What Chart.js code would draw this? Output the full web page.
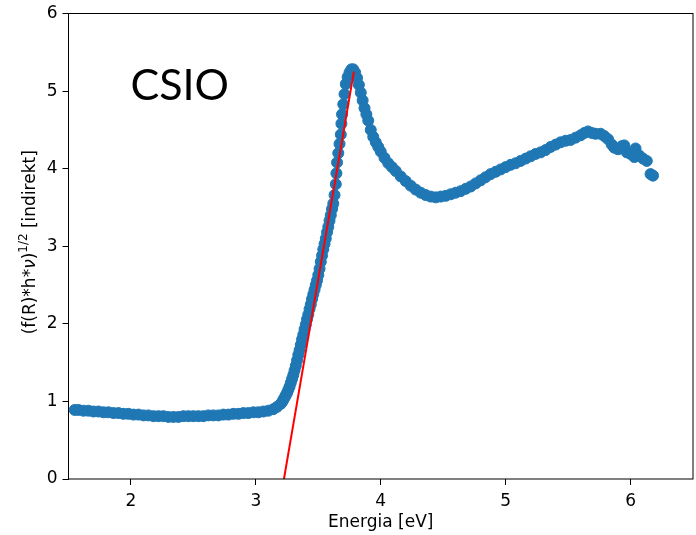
<!DOCTYPE html>
<html lang="en">
<head>
  <meta charset="UTF-8" />
  <title>CSIO</title>
  <script src="https://cdn.jsdelivr.net/npm/chart.js"></script>
  <style>
    html, body { margin: 0; padding: 0; background: #fff; }
  </style>
</head>
<body>
  <canvas id="csioChart" width="696" height="535"></canvas>

  <script>
    // Energy (eV)
    const energy = [
      1.55, 1.58, 1.62, 1.66, 1.70, 1.74, 1.78, 1.82, 1.86, 1.90, 1.94, 1.98,
      2.02, 2.06, 2.10, 2.14, 2.18, 2.22, 2.26, 2.30, 2.34, 2.38, 2.42, 2.46,
      2.50, 2.54, 2.58, 2.62, 2.66, 2.70, 2.74, 2.78, 2.82, 2.86, 2.90, 2.94,
      2.98, 3.02, 3.06, 3.10, 3.14, 3.17, 3.20,
      3.21, 3.22, 3.23, 3.24, 3.25, 3.26, 3.27, 3.28, 3.29, 3.30, 3.31, 3.32,
      3.33, 3.34, 3.35, 3.36, 3.37, 3.38, 3.39, 3.40, 3.41, 3.42, 3.43, 3.44,
      3.45, 3.46, 3.47, 3.48, 3.49, 3.50, 3.51, 3.52, 3.53, 3.54, 3.55, 3.56,
      3.57, 3.58, 3.59, 3.60, 3.61, 3.62, 3.63, 3.64, 3.645, 3.65, 3.66, 3.67,
      3.68, 3.685, 3.69, 3.70, 3.71, 3.72, 3.735, 3.75, 3.765, 3.78,
      3.795, 3.81, 3.825, 3.84, 3.855, 3.87, 3.885, 3.90, 3.92, 3.94, 3.96, 3.98,
      4.00, 4.03, 4.06, 4.09, 4.12, 4.16, 4.20, 4.24, 4.28, 4.32, 4.36, 4.40,
      4.44, 4.48, 4.52, 4.56, 4.60, 4.64, 4.68, 4.72, 4.76, 4.80, 4.84, 4.88,
      4.92, 4.96, 5.00, 5.04, 5.08, 5.12, 5.16, 5.20, 5.24, 5.28, 5.32, 5.36,
      5.40, 5.44, 5.48, 5.52, 5.56, 5.60, 5.63, 5.66, 5.69, 5.72, 5.76, 5.79,
      5.82, 5.85, 5.87, 5.90, 5.93, 5.95, 5.97, 6.00, 6.03, 6.04, 6.07, 6.10,
      6.13, 6.16, 6.18
    ];

    // (f(R)*h*nu)^(1/2), indirect
    const tauc = [
      0.89, 0.89, 0.88, 0.88, 0.87, 0.87, 0.86, 0.86, 0.85, 0.85, 0.84, 0.84,
      0.83, 0.83, 0.82, 0.82, 0.81, 0.81, 0.81, 0.80, 0.80, 0.80, 0.81, 0.81,
      0.81, 0.81, 0.81, 0.82, 0.82, 0.82, 0.83, 0.83, 0.84, 0.84, 0.85, 0.85,
      0.86, 0.86, 0.87, 0.88, 0.90, 0.93, 0.97,
      0.99, 1.02, 1.05, 1.08, 1.11, 1.15, 1.19, 1.24, 1.29, 1.34, 1.40, 1.46,
      1.53, 1.60, 1.66, 1.73, 1.80, 1.86, 1.93, 1.99, 2.06, 2.12, 2.19, 2.25,
      2.32, 2.38, 2.44, 2.50, 2.56, 2.63, 2.71, 2.80, 2.88, 2.96, 3.03, 3.10,
      3.18, 3.25, 3.33, 3.40, 3.48, 3.55, 3.66, 3.80, 3.94, 4.08, 4.20, 4.32,
      4.44, 4.58, 4.70, 4.83, 4.96, 5.09, 5.18, 5.24, 5.28, 5.28,
      5.24, 5.17, 5.08, 4.98, 4.88, 4.78, 4.70, 4.62, 4.50, 4.41, 4.34, 4.28,
      4.22, 4.14, 4.07, 4.02, 3.97, 3.90, 3.84, 3.78, 3.73, 3.69, 3.66, 3.64,
      3.63, 3.64, 3.65, 3.67, 3.69, 3.71, 3.74, 3.77, 3.81, 3.85, 3.89, 3.93,
      3.96, 3.99, 4.02, 4.05, 4.07, 4.10, 4.13, 4.16, 4.19, 4.21, 4.24, 4.28,
      4.31, 4.34, 4.36, 4.37, 4.40, 4.43, 4.46, 4.48, 4.46, 4.45, 4.45, 4.42,
      4.38, 4.31, 4.27, 4.25, 4.29, 4.30, 4.21, 4.19, 4.15, 4.26, 4.17, 4.13,
      4.10, 3.93, 3.91
    ];

    // red linear fit (band gap extrapolation)
    const fitEnergy = [3.225, 3.785];
    const fitTauc = [0, 5.25];

    const xTicks = [2, 3, 4, 5, 6];
    const yTicks = [0, 1, 2, 3, 4, 5, 6];

    const tickFont = { family: "DejaVu Sans", size: 17 };

    // spines, axis titles and the sample name
    const decorations = {
      id: "decorations",
      afterDatasetsDraw(chart) {
        const ctx = chart.ctx;
        const a = chart.chartArea;
        ctx.save();
        ctx.strokeStyle = "#000";
        ctx.lineWidth = 1;
        ctx.strokeRect(a.left, a.top, a.right - a.left, a.bottom - a.top);

        ctx.fillStyle = "#000";
        ctx.font = "17px 'DejaVu Sans'";
        ctx.textAlign = "center";
        ctx.textBaseline = "alphabetic";
        ctx.fillText("Energia [eV]", (a.left + a.right) / 2, 527);

        // y title with superscript
        const parts = [
          { t: "(f(R)*h*", f: "17px 'DejaVu Sans'", dy: 0 },
          { t: "ν", f: "italic 17px 'DejaVu Sans'", dy: 0 },
          { t: ")", f: "17px 'DejaVu Sans'", dy: 0 },
          { t: "1/2", f: "12px 'DejaVu Sans'", dy: -8 },
          { t: " [indirekt]", f: "17px 'DejaVu Sans'", dy: 0 }
        ];
        let total = 0;
        parts.forEach(p => { ctx.font = p.f; p.w = ctx.measureText(p.t).width; total += p.w; });
        ctx.translate(34.5, (a.top + a.bottom) / 2 - 4);
        ctx.rotate(-Math.PI / 2);
        ctx.textAlign = "left";
        let x = -total / 2;
        parts.forEach(p => { ctx.font = p.f; ctx.fillText(p.t, x, p.dy); x += p.w; });
        ctx.restore();

        ctx.save();
        ctx.fillStyle = "#000";
        ctx.font = "43px Lato";
        ctx.textAlign = "left";
        ctx.textBaseline = "alphabetic";
        ctx.fillText("CSIO", a.left + 62, a.top + 86);
        ctx.restore();
      }
    };

    new Chart(document.getElementById("csioChart"), {
      type: "scatter",
      data: {
        datasets: [
          {
            type: "line",
            label: "fit",
            data: fitEnergy.map((e, i) => ({ x: e, y: fitTauc[i] })),
            borderColor: "#ff0000",
            borderWidth: 2,
            pointRadius: 0,
            fill: false,
            order: 0
          },
          {
            label: "CSIO",
            data: energy.map((e, i) => ({ x: e, y: tauc[i] })),
            backgroundColor: "#1f77b4",
            borderColor: "#1f77b4",
            pointRadius: 5.5,
            pointBorderWidth: 1,
            order: 1
          }
        ]
      },
      options: {
        responsive: false,
        animation: false,
        layout: { autoPadding: false, padding: { top: 13.5, right: 3, bottom: 0, left: 0 } },
        plugins: {
          legend: { display: false },
          tooltip: { enabled: false }
        },
        scales: {
          x: {
            type: "linear",
            min: 1.5,
            max: 6.5,
            afterBuildTicks: s => { s.ticks = xTicks.map(v => ({ value: v })); },
            afterFit: s => { s.height = 56; s.paddingLeft = 0; s.paddingRight = 0; },
            grid: { drawOnChartArea: false, color: "#000", tickLength: 6 },
            border: { display: false },
            ticks: { font: tickFont, color: "#000", padding: 6, maxRotation: 0 }
          },
          y: {
            type: "linear",
            min: 0,
            max: 6,
            afterBuildTicks: s => { s.ticks = yTicks.map(v => ({ value: v })); },
            afterFit: s => { s.width = 68.5; s.paddingTop = 0; s.paddingBottom = 0; },
            grid: { drawOnChartArea: false, color: "#000", tickLength: 6 },
            border: { display: false },
            ticks: { font: tickFont, color: "#000", padding: 5 }
          }
        }
      },
      plugins: [decorations]
    });
  </script>
</body>
</html>
